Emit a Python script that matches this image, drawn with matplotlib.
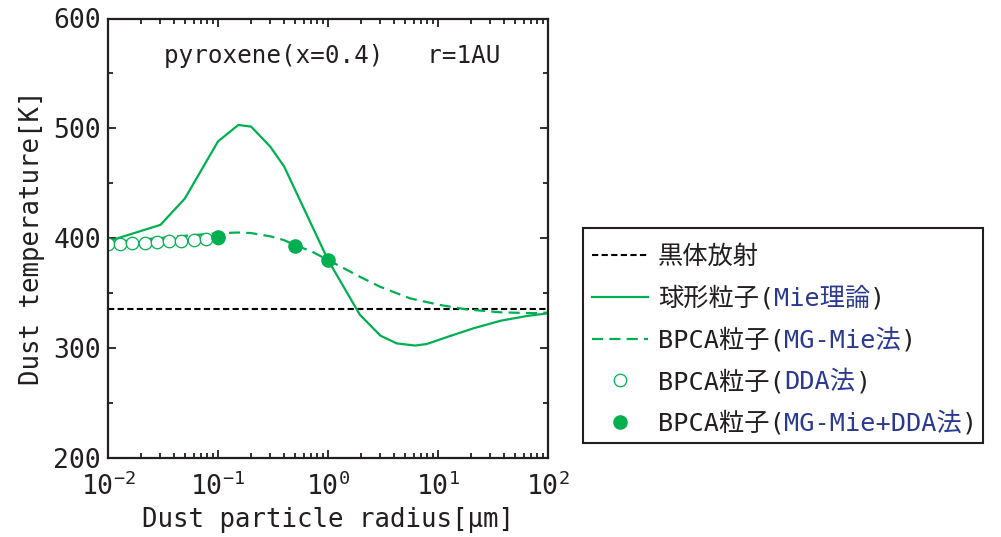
import matplotlib
matplotlib.use("Agg")
import matplotlib.pyplot as plt
from matplotlib.font_manager import FontProperties
from matplotlib.patches import Rectangle
from matplotlib.ticker import MultipleLocator, LogLocator, NullFormatter

plt.rcParams["font.family"] = ["DejaVu Sans Mono", "Noto Sans CJK JP"]

# data
r_sphere = [0.01, 0.03, 0.05, 0.1, 0.153, 0.2, 0.3, 0.4, 1.0, 1.95, 3.0, 4.2,
            6.2, 7.9, 12.9, 21, 37, 65, 100]
T_sphere = [397, 412, 436, 488, 503, 501.5, 483, 465, 380, 330, 311, 304,
            302, 303.4, 310.7, 317.7, 324.6, 329, 331.4]

r_mgmie = [0.01, 0.02, 0.05, 0.1, 0.15, 0.2, 0.3, 0.4, 0.5, 0.7, 1.0, 1.95,
           2.97, 5.56, 10.4, 18, 36.6, 73, 100]
T_mgmie = [396, 398.5, 402, 404.3, 405, 404.5, 401.5, 398, 393.5, 388, 380,
           364.7, 355.6, 345, 339, 335, 332.3, 331.5, 332]

r_dda = [0.010, 0.0129, 0.0167, 0.0215, 0.0278, 0.0359, 0.0464, 0.0599,
         0.0774, 0.100]
T_dda = [394.3, 394.9, 395.5, 395.8, 396.4, 397.0, 397.6, 398.5, 399.1, 400.0]

r_mix = [0.1, 0.5, 1.0]
T_mix = [401, 393, 380]

T_blackbody = 335

GREEN = "#00b050"
BLUE = "#2b3990"
INK = "#231f20"

legend_black = ["黒体放射", "球形粒子(", "BPCA粒子(", "BPCA粒子(", "BPCA粒子("]
legend_blue = ["", "Mie理論", "MG-Mie法", "DDA法", "MG-Mie+DDA法"]

fig = plt.figure(figsize=(10.01, 5.37), dpi=100)
ax = fig.add_axes([108 / 1001, 1 - 457.5 / 537, 440 / 1001, 439 / 537])

h_bb = ax.axhline(T_blackbody, color="black", lw=1.5, ls=(0, (3, 1.6)))
h_sph, = ax.plot(r_sphere, T_sphere, color=GREEN, lw=1.6)
h_mg, = ax.plot(r_mgmie, T_mgmie, color=GREEN, lw=1.6, ls=(0, (5, 2.8)))
h_dda, = ax.plot(r_dda, T_dda, ls="none", marker="o", ms=9, mfc="white",
                 mec=GREEN, mew=0.9)
h_mix, = ax.plot(r_mix, T_mix, ls="none", marker="o", ms=9.5, color=GREEN)

ax.set_xscale("log")
ax.set_xlim(0.01, 100)
ax.set_ylim(200, 600)
ax.yaxis.set_major_locator(MultipleLocator(100))
ax.yaxis.set_minor_locator(MultipleLocator(50))
ax.xaxis.set_minor_locator(LogLocator(base=10, subs=range(2, 10), numticks=20))
ax.xaxis.set_minor_formatter(NullFormatter())

ax.tick_params(which="both", direction="in", top=True, right=True,
               colors=INK, width=1.3)
ax.tick_params(which="major", length=6, labelsize=19, pad=5)
ax.tick_params(axis="x", which="major", pad=11)
ax.tick_params(which="minor", length=3.5)
for s in ax.spines.values():
    s.set_linewidth(1.6)
    s.set_color(INK)

ax.set_xlabel("Dust particle radius[μm]", fontsize=18.5, color=INK, labelpad=4)
ax.set_ylabel("Dust temperature[K]", fontsize=18.5, color=INK, labelpad=6)

ax.text(0.127, 0.899, "pyroxene(x=0.4)   r=1AU", transform=ax.transAxes,
        fontsize=17.5, color=INK, va="baseline", ha="left")

# legend, outside the axes, with two-colour labels
prop = FontProperties(family=["DejaVu Sans Mono", "Noto Sans CJK JP"], size=18.2)
leg = ax.legend([h_bb, h_sph, h_mg, h_dda, h_mix], legend_black,
                loc="upper left", bbox_to_anchor=(592 / 1001, 1 - 245 / 537),
                bbox_transform=fig.transFigure, frameon=False, prop=prop,
                handlelength=2.2, handletextpad=0.4, labelspacing=0.67,
                borderpad=0, borderaxespad=0)
for txt, blue in zip(leg.get_texts(), legend_blue):
    txt.set_color(INK)
    if not blue:
        continue
    part = ax.annotate(blue, xy=(1, 0), xycoords=txt, va="bottom", ha="left",
                       color=BLUE, fontproperties=prop, zorder=6,
                       annotation_clip=False)
    ax.annotate(")", xy=(1, 0), xycoords=part, va="bottom", ha="left",
                color=INK, fontproperties=prop, zorder=6, annotation_clip=False)

fig.add_artist(Rectangle((583 / 1001, 1 - 443 / 537), 400 / 1001, 215 / 537,
                         transform=fig.transFigure, fill=False, lw=1.5, ec=INK))

fig.savefig("out.png", dpi=100)
